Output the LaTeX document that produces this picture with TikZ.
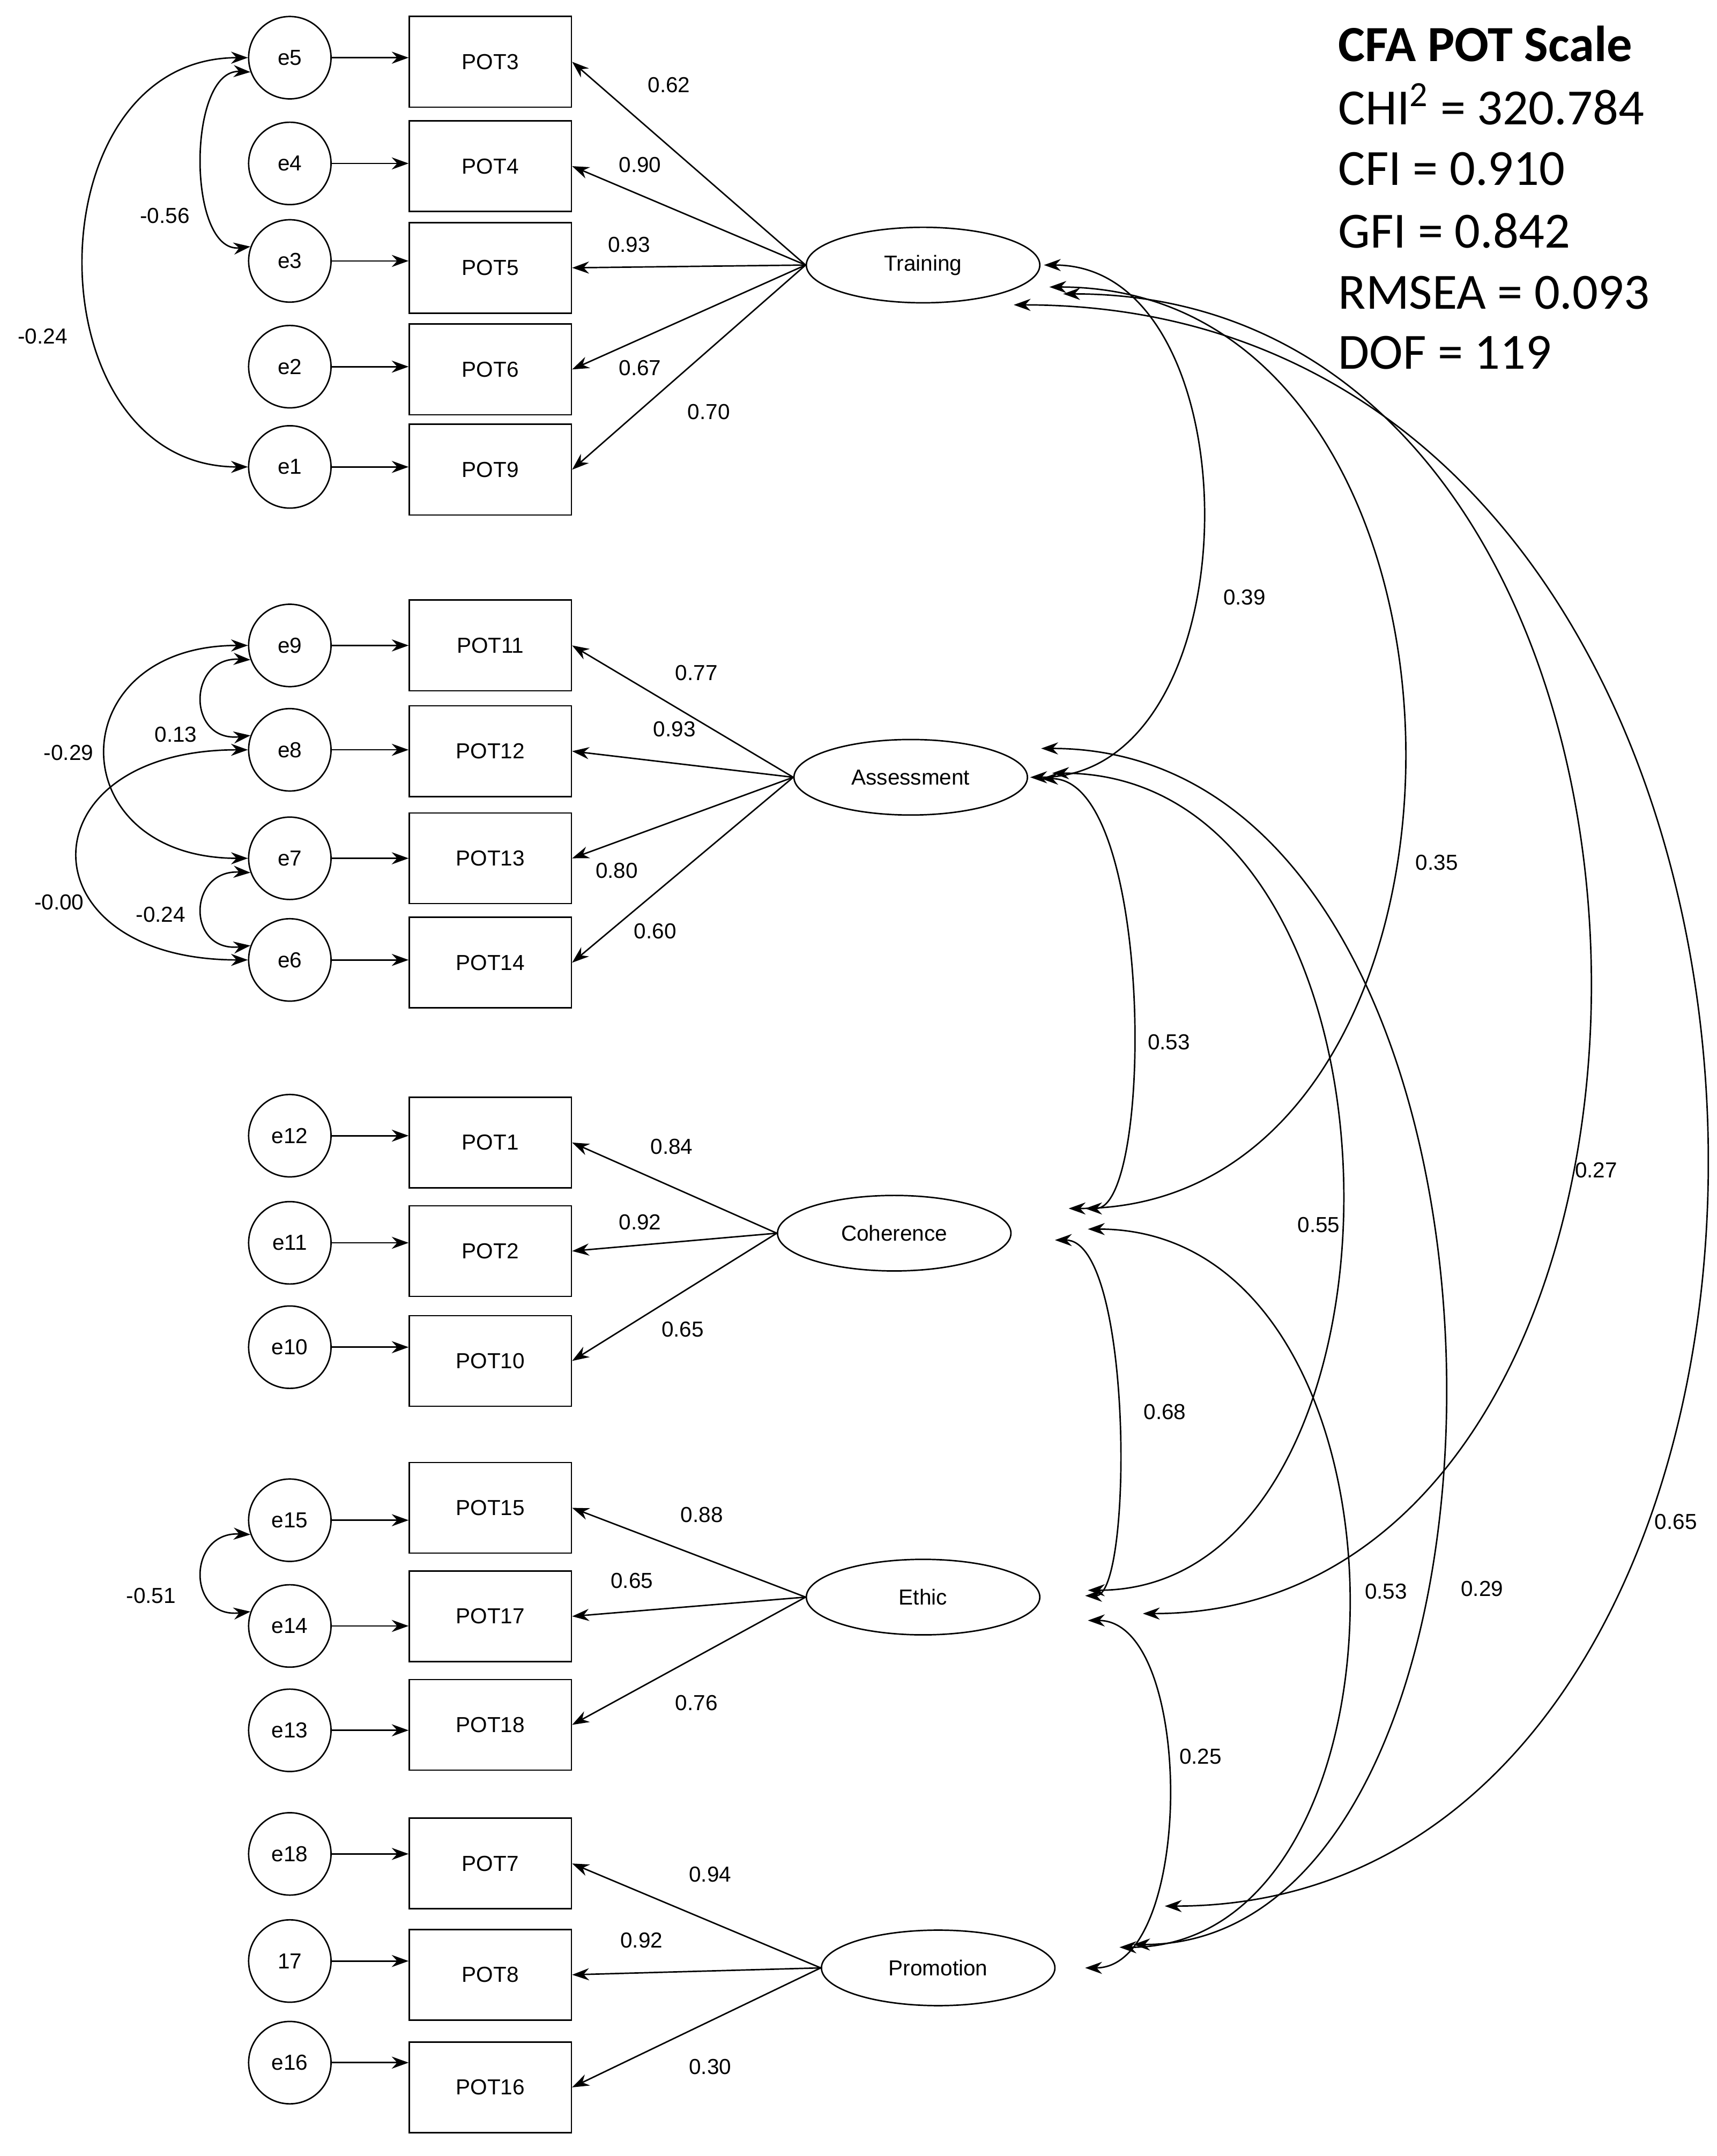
\documentclass[tikz,border=0pt]{standalone}
\usepackage{fontspec}
\setmainfont{Liberation Sans}
\newfontfamily\statfont{Carlito}
\usetikzlibrary{arrows.meta}
\usetikzlibrary{shapes.geometric}
\usetikzlibrary{positioning}

\tikzset{
  err/.style={circle, draw, minimum size=1.2cm, inner sep=0pt, font=\small},
  item/.style={rectangle, draw, minimum width=2.36cm, minimum height=1.32cm, inner sep=0pt, font=\small},
  lat/.style={ellipse, draw, minimum width=3.4cm, minimum height=1.1cm, inner sep=0pt, font=\small},
  path/.style={-{Stealth[length=7pt,width=5pt]}},
  cov/.style={{Stealth[length=7pt,width=5pt]}-{Stealth[length=7pt,width=5pt]}},
  est/.style={font=\small}
}

\begin{document}
\begin{tikzpicture}[x=0.02cm, y=-0.02cm, semithick]
	\useasboundingbox (0,0) rectangle (1250,1570);

	% latent factors
	\node[lat] (tr) at (672,193) {Training};
	\node[lat] (as) at (663,566) {Assessment};
	\node[lat] (co) at (651,898) {Coherence};
	\node[lat] (et) at (672,1163) {Ethic};
	\node[lat] (pr) at (683,1433) {Promotion};

	% error -> item
	\foreach \e/\l/\ey/\b/\by in {e5/e5/42/pot3/45, e4/e4/119/pot4/121, e3/e3/190/pot5/195,
	    e2/e2/267/pot6/269, e1/e1/340/pot9/342,
	    e9/e9/470/pot11/470, e8/e8/546/pot12/547, e7/e7/625/pot13/625, e6/e6/699/pot14/701,
	    e12/e12/827/pot1/832, e11/e11/905/pot2/911, e10/e10/981/pot10/991,
	    e15/e15/1107/pot15/1098, e14/e14/1184/pot17/1177, e13/e13/1260/pot18/1256,
	    e18/e18/1350/pot7/1357, e17/17/1428/pot8/1438, e16/e16/1502/pot16/1520}
	{
		\node[err] (\e) at (211,\ey) {\l};
		\node[item] (\b) at (357,\by) {\expandafter\MakeUppercase\expandafter{\b}};
		\draw[path] (\e) -- (\e -| \b.west);
	}

	% loadings
	\foreach \f/\b/\v/\lx/\ly in {tr/pot3/0.62/487/62, tr/pot4/0.90/466/120, tr/pot5/0.93/458/178,
	    tr/pot6/0.67/466/268, tr/pot9/0.70/516/300,
	    as/pot11/0.77/507/490, as/pot12/0.93/491/531, as/pot13/0.80/449/634, as/pot14/0.60/477/678,
	    co/pot1/0.84/489/835, co/pot2/0.92/466/890, co/pot10/0.65/497/968,
	    et/pot15/0.88/511/1103, et/pot17/0.65/460/1151, et/pot18/0.76/507/1240,
	    pr/pot7/0.94/517/1365, pr/pot8/0.92/467/1413, pr/pot16/0.30/517/1505}
	{
		\draw[path] (\f.west) -- (\b.east);
		\node[est] at (\lx,\ly) {\v};
	}

	% error covariances
	\draw[cov] (e5.west) .. controls (22,42) and (22,340) .. (e1.west);
	\draw[cov] (e5.200) .. controls (136,50) and (136,185) .. (e3.160);
	\draw[cov] (e9.west) .. controls (43,470) and (43,625) .. (e7.west);
	\draw[cov] (e9.200) .. controls (136,478) and (136,541) .. (e8.160);
	\draw[cov] (e8.west) .. controls (16,546) and (16,699) .. (e6.west);
	\draw[cov] (e7.200) .. controls (136,633) and (136,694) .. (e6.160);
	\draw[cov] (e15.200) .. controls (136,1115) and (136,1179) .. (e14.160);
	\node[est] at (31,245) {-0.24};
	\node[est] at (120,157) {-0.56};
	\node[est] at (50,548) {-0.29};
	\node[est] at (128,535) {0.13};
	\node[est] at (43,657) {-0.00};
	\node[est] at (117,666) {-0.24};
	\node[est] at (110,1162) {-0.51};

	% factor covariance ends
	\coordinate (tr1) at (760,193);
	\coordinate (tr2) at (764,209);
	\coordinate (tr3) at (774,214);
	\coordinate (tr4) at (738,222);
	\coordinate (as1) at (750,566);
	\coordinate (as2) at (758,545);
	\coordinate (as3) at (766,563);
	\coordinate (as4) at (758,567);
	\coordinate (co1) at (778,880);
	\coordinate (co2) at (790,880);
	\coordinate (co3) at (768,903);
	\coordinate (co4) at (792,895);
	\coordinate (et1) at (790,1162);
	\coordinate (et2) at (792,1158);
	\coordinate (et3) at (832,1175);
	\coordinate (et4) at (792,1180);
	\coordinate (pr1) at (848,1388);
	\coordinate (pr2) at (825,1416);
	\coordinate (pr3) at (815,1418);
	\coordinate (pr4) at (790,1433);

	% factor covariances
	\draw[cov] (tr1) .. controls (915,193) and (915,566) .. (as1);
	\draw[cov] (tr2) .. controls (1105,209) and (1105,880) .. (co1);
	\draw[cov] (tr3) .. controls (1274,214) and (1274,1175) .. (et3);
	\draw[cov] (tr4) .. controls (1390,222) and (1390,1388) .. (pr1);
	\draw[cov] (as4) .. controls (840,567) and (840,880) .. (co2);
	\draw[cov] (as3) .. controls (1042,563) and (1042,1158) .. (et2);
	\draw[cov] (as2) .. controls (1137,545) and (1137,1416) .. (pr2);
	\draw[cov] (co3) .. controls (825,903) and (825,1162) .. (et1);
	\draw[cov] (co4) .. controls (1040,895) and (1040,1418) .. (pr3);
	\draw[cov] (et4) .. controls (870,1180) and (870,1433) .. (pr4);
	\node[est] at (906,435) {0.39};
	\node[est] at (1046,628) {0.35};
	\node[est] at (851,759) {0.53};
	\node[est] at (960,892) {0.55};
	\node[est] at (1162,852) {0.27};
	\node[est] at (848,1028) {0.68};
	\node[est] at (1009,1159) {0.53};
	\node[est] at (1079,1157) {0.29};
	\node[est] at (874,1279) {0.25};
	\node[est] at (1220,1108) {0.65};

	% fit statistics
	\begin{scope}[every node/.style={anchor=west, font=\statfont\fontsize{21}{24}\selectfont}]
		\node at (968,32) {\bfseries CFA POT Scale};
		\node at (968,76) {CHI\textsuperscript{2} = 320.784};
		\node at (968,123) {CFI = 0.910};
		\node at (968,168) {GFI = 0.842};
		\node at (968,213) {RMSEA = 0.093};
		\node at (968,257) {DOF = 119};
	\end{scope}
\end{tikzpicture}
\end{document}
